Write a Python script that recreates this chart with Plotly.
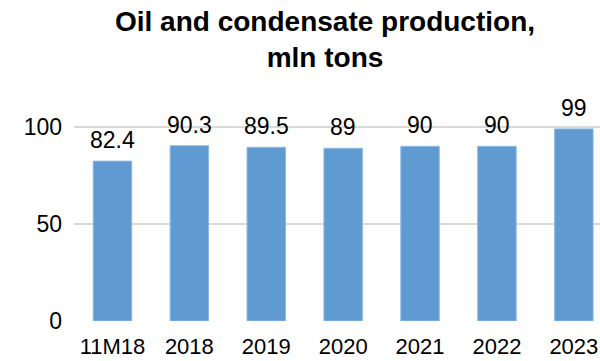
import plotly.graph_objects as go

# Oil and condensate production by period, million tons
periods = ["11M18", "2018", "2019", "2020", "2021", "2022", "2023"]
production = [82.4, 90.3, 89.5, 89, 90, 90, 99]
value_labels = ["82.4", "90.3", "89.5", "89", "90", "90", "99"]
y_ticks = [0, 50, 100]

FONT = "Liberation Sans, Arial, sans-serif"
BAR_COLOR = "#5F9BD1"
TEXT_SIZE = 23

fig = go.Figure()
fig.add_trace(go.Bar(
    x=periods,
    y=production,
    width=0.5,
    marker=dict(color=BAR_COLOR, line=dict(color="#8DB8E2", width=1)),
    hoverinfo="x+y",
))

# value labels sit a little above each bar (category axis -> index positions)
for i, (v, t) in enumerate(zip(production, value_labels)):
    fig.add_annotation(
        x=i, y=v, xref="x", yref="y", text=t, showarrow=False,
        yanchor="bottom", yshift=6,
        font=dict(family=FONT, size=TEXT_SIZE, color="#000000"),
    )

# two-line bold chart title
fig.add_annotation(
    xref="paper", yref="paper", x=0.477, y=1.315,
    xanchor="center", yanchor="top", showarrow=False,
    text="<b>Oil and condensate production,<br>mln tons</b>",
    font=dict(family=FONT, size=28, color="#000000"),
)

fig.update_layout(
    width=600, height=361,
    margin=dict(l=74, r=0, t=80, b=40),
    paper_bgcolor="white", plot_bgcolor="white",
    showlegend=False,
    font=dict(family=FONT, size=TEXT_SIZE, color="#000000"),
)
fig.update_xaxes(
    type="category",
    range=[-0.5, 6.34],
    automargin=False,
    showgrid=False, zeroline=False, showline=False,
    ticks="", ticklabelstandoff=10,
    tickfont=dict(family=FONT, size=22, color="#000000"),
)
fig.update_yaxes(
    range=[0, 124.2],
    tickvals=y_ticks,
    automargin=False,
    showgrid=True, gridcolor="#D9D9D9", gridwidth=1.5,
    zeroline=False, showline=False,
    ticks="", ticklabelstandoff=11,
    tickfont=dict(family=FONT, size=TEXT_SIZE, color="#000000"),
)

fig.write_html("out.html")
